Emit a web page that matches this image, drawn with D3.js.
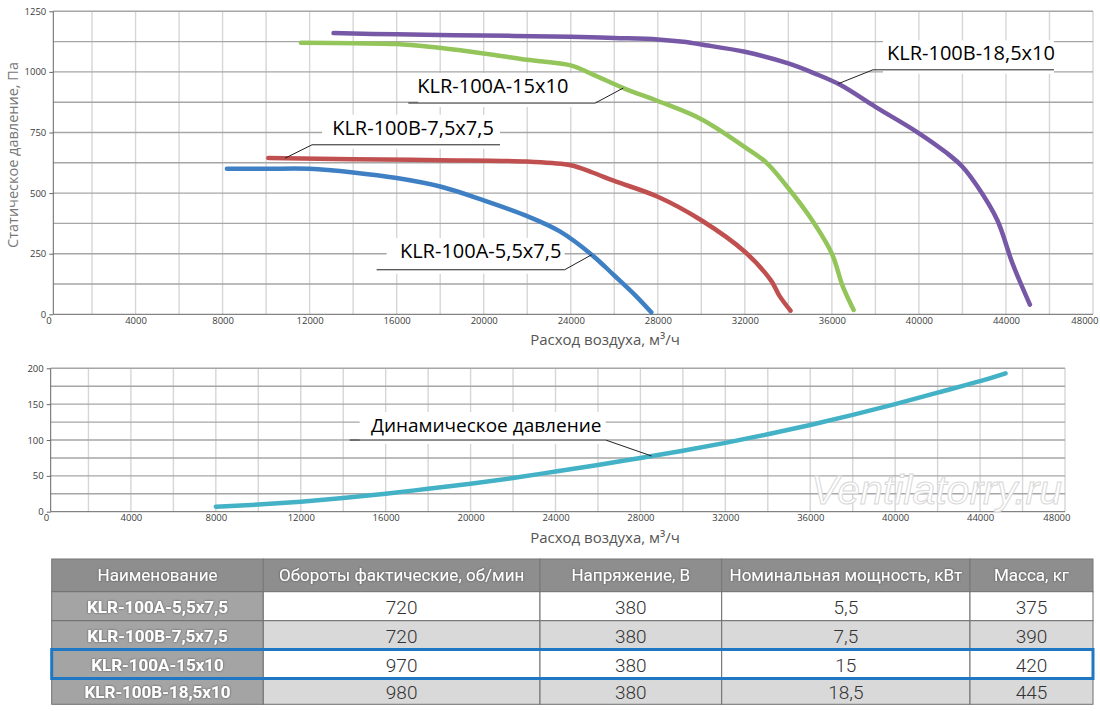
<!DOCTYPE html>
<meta charset="utf-8">
<style>
body { margin: 0; background: #fff; }
svg { display: block; font-family: "Open Sans", sans-serif; }
.tick text { font-size: 9.5px; fill: #3c3c3c; font-family: "Open Sans", sans-serif; }
.tick line { stroke: #666; }
.domain { stroke: #666; }
.gridH { stroke: #a6a6a6; stroke-width: 1.4; }
.gridV { stroke: #d6d6d6; stroke-width: 1.4; }
.curve { fill: none; stroke-width: 4.5; stroke-linecap: round; stroke-linejoin: round; }
.leader { fill: none; stroke: #222; stroke-width: 1; }
.label { font-size: 20px; fill: #000; }
.axisTitle { font-size: 15px; fill: #555; }
.cellText { font-family: "Roboto", sans-serif; }
</style>
<svg width="1100" height="711"></svg>
<script src="https://cdnjs.cloudflare.com/ajax/libs/d3/7.8.5/d3.min.js"></script>
<script>

// static pressure curves: [air flow m3/h, pressure Pa]
var klr100a_55x75 = [[8200,600],[10000,600],[12000,600],[14000,585],[16000,562],[18000,527],[20000,470],
  [22000,405],[23500,342],[25000,243],[26000,160],[27000,75],[27700,8]];
var klr100b_75x75 = [[10100,645],[14000,640],[18000,636],[22000,630],[24000,615],[25000,585],[26000,550],
  [28000,485],[30000,388],[32000,258],[33200,140],[33600,75],[34100,15]];
var klr100a_15x10 = [[11600,1120],[14000,1118],[16000,1115],[17500,1104],[19000,1088],[20500,1070],[22000,1050],
  [24000,1027],[25000,990],[26500,930],[28000,880],[30000,805],[32000,690],[33000,625],[34000,520],
  [35000,400],[36000,250],[36500,115],[37000,18]];
var klr100b_185x10 = [[13100,1160],[16000,1155],[20000,1150],[24000,1145],[26000,1140],[28000,1134],[29300,1123],
  [30000,1113],[32000,1083],[34000,1035],[35200,994],[36400,946],[38000,856],[39900,753],[41300,664],
  [42000,609],[42700,526],[43600,389],[44300,210],[45100,40]];

// dynamic pressure: [air flow m3/h, pressure Pa]
var dynamicPressure = [[8000,7],[10000,10],[12000,14],[14000,19],[16000,25],[18000,32],[20000,39],[22000,47],
  [24000,56],[26000,65],[28000,75],[30000,85],[32000,96],[34000,108],[36000,121],[38000,135],[40000,150],
  [42000,166],[44000,182],[45200,193]];

var flowTicks = [0,4000,8000,12000,16000,20000,24000,28000,32000,36000,40000,44000,48000];
var staticTicks = [0,250,500,750,1000,1250];
var dynamicTicks = [0,50,100,150,200];

// table
var tableHeader = ["Наименование", "Обороты фактические, об/мин", "Напряжение, В", "Номинальная мощность, кВт", "Масса, кг"];
var modelNames = ["KLR-100A-5,5x7,5", "KLR-100B-7,5x7,5", "KLR-100A-15x10", "KLR-100B-18,5x10"];
var rpmValues = ["720", "720", "970", "980"];
var voltageValues = ["380", "380", "380", "380"];
var powerValues = ["5,5", "7,5", "15", "18,5"];
var massValues = ["375", "390", "420", "445"];
var highlightRow = 2;

var svg = d3.select("svg");

// helper: linear read of a curve at a given flow
function valueAt(series, xv) {
  for (var i = 1; i < series.length; i++) {
    if (xv <= series[i][0]) {
      var a = series[i-1], b = series[i];
      return a[1] + (b[1]-a[1]) * (xv-a[0]) / (b[0]-a[0]);
    }
  }
  return series[series.length-1][1];
}

function drawPanel(o) {
  var g = svg.append("g");
  var x = d3.scaleLinear().domain([0, 48000]).range([o.x0, o.right]);
  var y = d3.scaleLinear().domain([0, o.yMax]).range([o.bottom, o.top]);

  // grid
  g.selectAll(".gridV").data(d3.range(2000, 48001, 2000)).enter().append("line")
    .attr("class", "gridV")
    .attr("x1", d => x(d)).attr("x2", d => x(d))
    .attr("y1", o.top).attr("y2", o.bottom);
  g.selectAll(".gridH").data(d3.range(o.yStep, o.yMax + 1, o.yStep)).enter().append("line")
    .attr("class", "gridH")
    .attr("x1", o.left).attr("x2", o.right)
    .attr("y1", d => y(d)).attr("y2", d => y(d));

  // axes
  g.append("g")
    .attr("transform", "translate(0," + o.bottom + ")")
    .call(d3.axisBottom(x).tickValues(flowTicks).tickSize(0).tickPadding(3).tickFormat(d3.format("d")))
    .call(s => s.select(".domain").attr("d", "M" + o.left + ",0H" + o.right))
    .call(s => s.selectAll(".tick:last-of-type text").attr("text-anchor", "end").attr("dx", 5));
  g.append("g")
    .attr("transform", "translate(" + o.left + ",0)")
    .call(d3.axisLeft(y).tickValues(o.yTicks).tickSize(4).tickPadding(3).tickFormat(d3.format("d")))
    .call(s => s.select(".domain").attr("d", "M0," + o.top + "V" + o.bottom));

  g.append("text").attr("class", "axisTitle")
    .attr("x", 605).attr("y", o.bottom + o.titleDy)
    .attr("text-anchor", "middle")
    .text("Расход воздуха, м³/ч");

  var line = d3.line().x(d => x(d[0])).y(d => y(d[1])).curve(d3.curveCatmullRom.alpha(0.5));

  // label backgrounds first, so grid is hidden behind text
  var labels = o.labels.map(function(a) {
    var ax = x(a.atX), ay = y(valueAt(a.series, a.atX));
    var ex = ax + a.elbowDx, ey = ay + a.elbowDy;
    return {a: a, ax: ax, ay: ay, ex: ex, ey: ey, x1: Math.min(ex, ex + a.lineLen), x2: Math.max(ex, ex + a.lineLen)};
  });
  g.selectAll(".lblbg").data(labels).enter().append("rect")
    .attr("fill", "#fff")
    .attr("x", d => d.x1 + 10).attr("width", d => d.x2 - d.x1 - 10)
    .attr("y", d => d.ey + d.a.textDy - 20).attr("height", d => 24 - d.a.textDy);

  g.selectAll(".curve").data(o.series).enter().append("path")
    .attr("class", "curve")
    .attr("stroke", d => d.color)
    .attr("d", d => line(d.values));

  g.selectAll(".leader").data(labels).enter().append("path")
    .attr("class", "leader")
    .attr("d", d => "M" + d.ax + "," + d.ay + "L" + d.ex + "," + d.ey + "H" + (d.ex + d.a.lineLen));
  g.selectAll(".label").data(labels).enter().append("text")
    .attr("class", "label")
    .attr("x", d => d.ex + d.a.textDx).attr("y", d => d.ey + d.a.textDy)
    .attr("text-anchor", "middle")
    .style("font-size", d => d.a.size || null)
    .text(d => d.a.text);
  return g;
}

drawPanel({
  left: 53.3, x0: 48.5, right: 1093, top: 11.3, bottom: 314.3,
  yMax: 1250, yStep: 125, yTicks: staticTicks, titleDy: 31,
  series: [
    {color: "#3f80c4", values: klr100a_55x75},
    {color: "#c0504f", values: klr100b_75x75},
    {color: "#93c55b", values: klr100a_15x10},
    {color: "#7658a6", values: klr100b_185x10}
  ],
  labels: [
    {text: "KLR-100B-18,5x10", series: klr100b_185x10, atX: 36280, elbowDx: 35, elbowDy: -14, lineLen: 181, textDx: 98, textDy: -9.5},
    {text: "KLR-100A-15x10", series: klr100a_15x10, atX: 26415, elbowDx: -28, elbowDy: 15, lineLen: -187, textDx: -102.5, textDy: -10},
    {text: "KLR-100B-7,5x7,5", series: klr100b_75x75, atX: 10870, elbowDx: 27, elbowDy: -13.4, lineLen: 188, textDx: 101, textDy: -10},
    {text: "KLR-100A-5,5x7,5", series: klr100a_55x75, atX: 24960, elbowDx: -27, elbowDy: 15, lineLen: -188, textDx: -84, textDy: -11.7}
  ]
});

drawPanel({
  left: 50.7, x0: 46, right: 1065, top: 368.3, bottom: 511.7,
  yMax: 200, yStep: 25, yTicks: dynamicTicks, titleDy: 31,
  series: [{color: "#43b2c6", values: dynamicPressure}],
  labels: [
    {text: "Динамическое давление", series: dynamicPressure, atX: 28530, elbowDx: -46, elbowDy: -16, lineLen: -256, textDx: -119.5, textDy: -8, size: "19px"}
  ]
});

// y title of the top chart
svg.append("text").attr("class", "axisTitle")
  .attr("transform", "translate(18,155) rotate(-90)")
  .attr("text-anchor", "middle")
  .style("font-size", "14.5px").style("fill", "#777")
  .text("Статическое давление, Па");

// watermark
svg.append("text")
  .attr("x", 1062).attr("y", 504)
  .attr("text-anchor", "end")
  .style("font-family", "'Liberation Sans', sans-serif")
  .style("font-style", "italic").style("font-size", "41px")
  .style("fill", "#fff").style("stroke", "#d8d8d8").style("stroke-width", 1)
  .text("Ventilatorry.ru");

// table
var colX = [51.7, 263.3, 540, 721.7, 970, 1093];
var rowY = [559, 591.7, 620.7, 649.5, 678.5, 704.3];
var rows = modelNames.map((n, i) => [n, rpmValues[i], voltageValues[i], powerValues[i], massValues[i]]);

var defs = svg.append("defs");
defs.append("filter").attr("id", "shadow").attr("x", "-5%").attr("y", "-20%").attr("width", "110%").attr("height", "140%")
  .append("feDropShadow").attr("dx", 0).attr("dy", 0).attr("stdDeviation", 0.9).attr("flood-color", "#444").attr("flood-opacity", 0.9);

var tg = svg.append("g");
// header
tg.selectAll(".hcell").data(tableHeader).enter().append("rect")
  .attr("x", (d, i) => colX[i]).attr("width", (d, i) => colX[i+1] - colX[i])
  .attr("y", rowY[0]).attr("height", rowY[1] - rowY[0])
  .attr("fill", "#8e8e8e").attr("stroke", "#777").attr("stroke-width", 1);
tg.selectAll(".htext").data(tableHeader).enter().append("text")
  .attr("class", "cellText")
  .attr("x", (d, i) => (colX[i] + colX[i+1]) / 2).attr("y", (rowY[0] + rowY[1]) / 2)
  .attr("text-anchor", "middle").attr("dominant-baseline", "central")
  .style("font-size", "17px").style("fill", "#fff")
  .attr("filter", "url(#shadow)")
  .text(d => d);

var rg = tg.selectAll(".row").data(rows).enter().append("g");
rg.each(function(r, ri) {
  var g = d3.select(this);
  g.selectAll("rect").data(r).enter().append("rect")
    .attr("x", (d, i) => colX[i]).attr("width", (d, i) => colX[i+1] - colX[i])
    .attr("y", rowY[ri+1]).attr("height", rowY[ri+2] - rowY[ri+1])
    .attr("fill", (d, i) => i === 0 ? "#a4a4a4" : (ri % 2 ? "#d9d9d9" : "#fff"))
    .attr("stroke", "#6f6f6f").attr("stroke-width", 1);
  g.selectAll("text").data(r).enter().append("text")
    .attr("class", "cellText")
    .attr("x", (d, i) => (colX[i] + colX[i+1]) / 2).attr("y", (rowY[ri+1] + rowY[ri+2]) / 2 + 1)
    .attr("text-anchor", "middle").attr("dominant-baseline", "central")
    .style("font-size", (d, i) => i === 0 ? "17px" : "19px")
    .style("font-weight", (d, i) => i === 0 ? "bold" : "300")
    .style("fill", (d, i) => i === 0 ? "#fff" : "#333")
    .attr("filter", (d, i) => i === 0 ? "url(#shadow)" : null)
    .text(d => d);
});

// highlighted row
tg.append("rect")
  .attr("x", colX[0]).attr("width", colX[5] - colX[0])
  .attr("y", rowY[highlightRow+1]).attr("height", rowY[highlightRow+2] - rowY[highlightRow+1])
  .attr("fill", "none").attr("stroke", "#1f78c3").attr("stroke-width", 3);

</script>
